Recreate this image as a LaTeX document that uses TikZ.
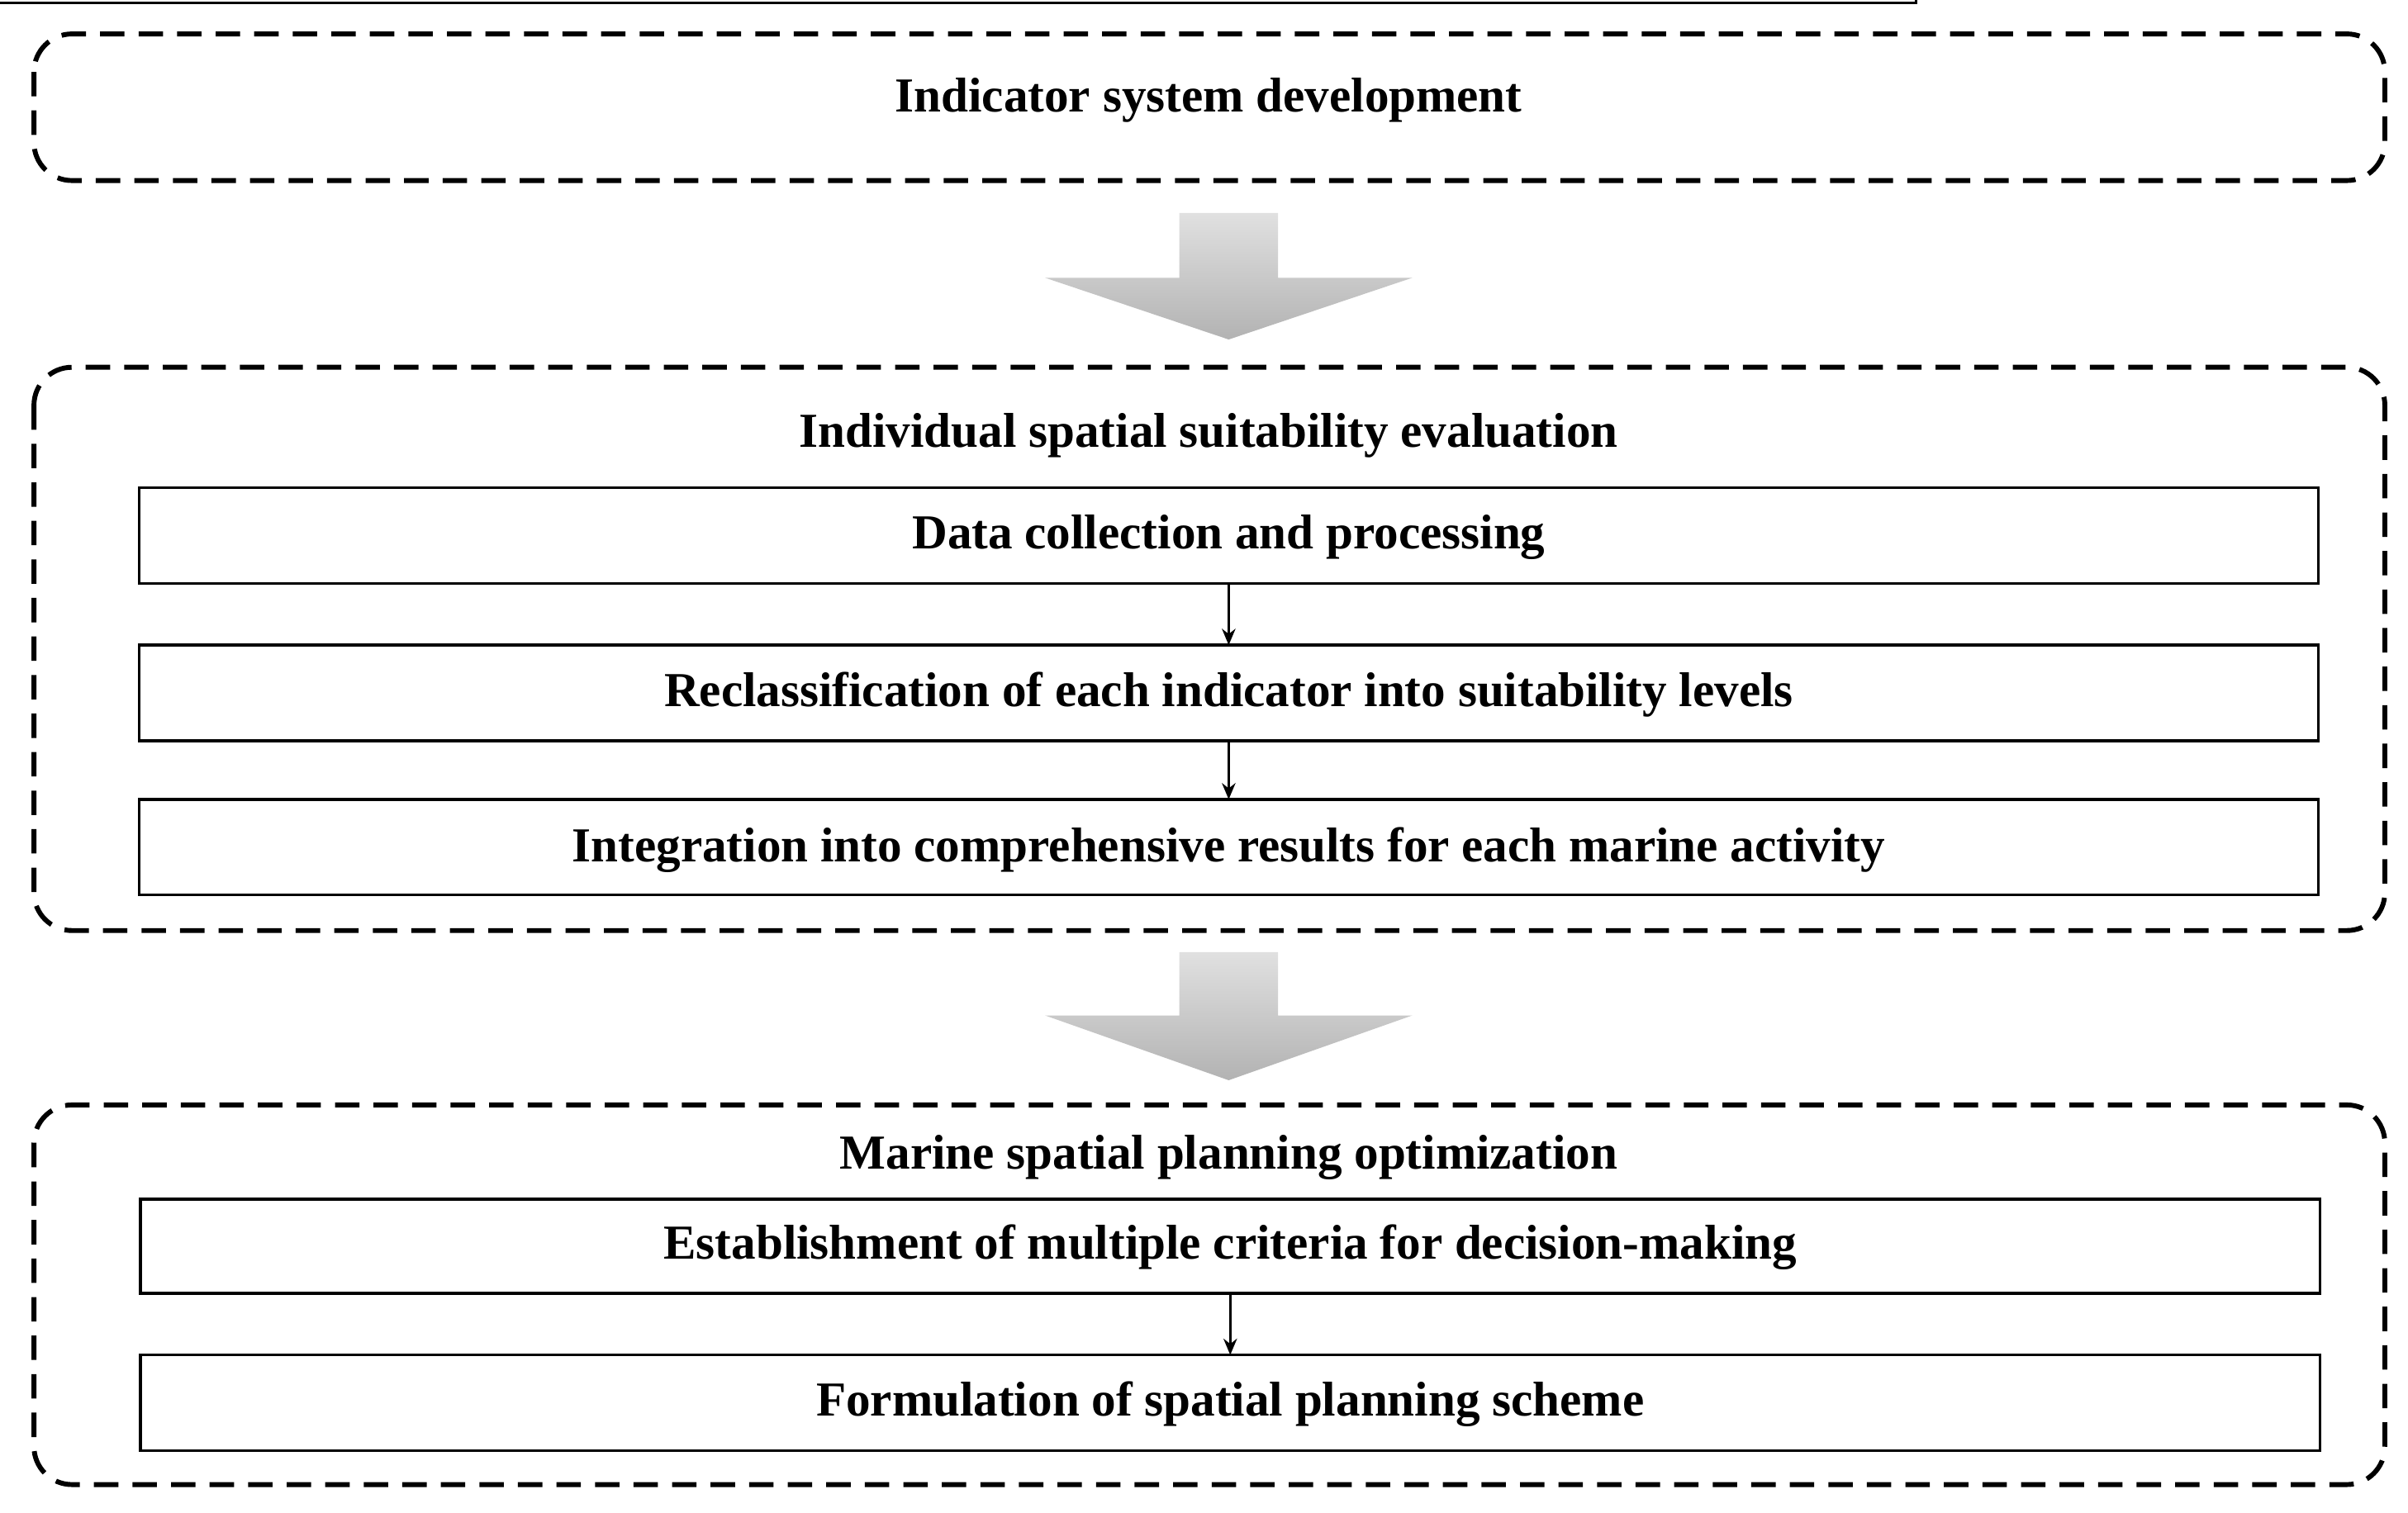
\documentclass[tikz,border=0pt]{standalone}
\usepackage{fontspec}
\setmainfont{Liberation Serif}
\usetikzlibrary{arrows.meta}
\begin{document}
\begin{tikzpicture}[x=0.01cm,y=-0.01cm,
  grp/.style={draw, line width=0.9pt, dash pattern=on 4.5pt off 2.6pt, rounded corners=7pt},
  box/.style={draw, line width=0.5pt},
  lbl/.style={font=\fontsize{9}{10}\selectfont\bfseries, anchor=center},
  conn/.style={-{Stealth[length=3pt,width=2.5pt]}, line width=0.4pt},
  big/.style={top color=black!12, bottom color=black!30, draw=none}]
\useasboundingbox (0,0) rectangle (1560,980);
\draw[grp] (22,22) rectangle (1545,117);
\node[lbl] (t1) at (783,65) {Indicator system development};
\path[big] (764,138) -- (828,138) -- (828,180) -- (915,180) -- (796,220) -- (677,180) -- (764,180) -- cycle;
\draw[grp] (22,238) rectangle (1545,603);
\node[lbl] (t2) at (783,282) {Individual spatial suitability evaluation};
\node[box, minimum width=1412\pgflinewidth, inner sep=0pt] (a) at (0,0) {};
\draw[box] (90,316) rectangle (1502,378);
\node[lbl] (na) at (796,348) {Data collection and processing};
\draw[box] (90,418) rectangle (1502,480);
\node[lbl] (nb) at (796,450) {Reclassification of each indicator into suitability levels};
\draw[box] (90,518) rectangle (1502,580);
\node[lbl] (nc) at (796,551) {Integration into comprehensive results for each marine activity};
\coordinate (a1) at (796,378); \coordinate (b0) at (796,418);
\coordinate (b1) at (796,480); \coordinate (c0) at (796,518);
\draw[conn] (a1) -- (b0);
\draw[conn] (b1) -- (c0);
\path[big] (764,617) -- (828,617) -- (828,658) -- (915,658) -- (796,700) -- (677,658) -- (764,658) -- cycle;
\draw[grp] (22,716) rectangle (1545,962);
\node[lbl] (t3) at (796,750) {Marine spatial planning optimization};
\draw[box] (91,777) rectangle (1503,838);
\node[lbl] (nd) at (797,808) {Establishment of multiple criteria for decision-making};
\draw[box] (91,878) rectangle (1503,940);
\node[lbl] (ne) at (797,910) {Formulation of spatial planning scheme};
\coordinate (d1) at (797,838); \coordinate (e0) at (797,878);
\draw[conn] (d1) -- (e0);
\end{tikzpicture}
\end{document}
